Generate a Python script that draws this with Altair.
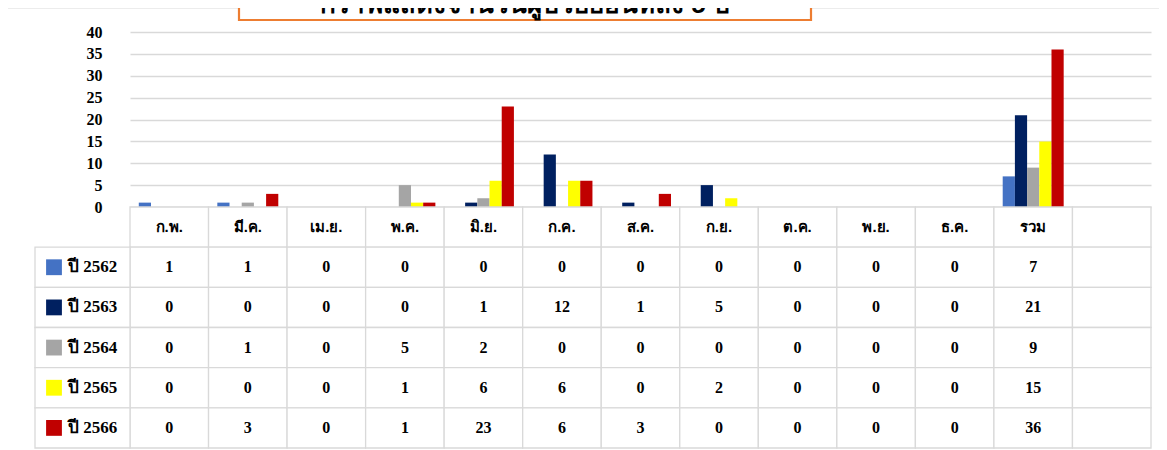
import altair as alt
import pandas as pd

# ---------------- data ----------------
months = ["ก.พ.", "มี.ค.", "เม.ย.", "พ.ค.", "มิ.ย.", "ก.ค.", "ส.ค.", "ก.ย.", "ต.ค.", "พ.ย.", "ธ.ค.", "รวม"]
blank_col = " "
years = ["ปี 2562", "ปี 2563", "ปี 2564", "ปี 2565", "ปี 2566"]
v2562 = [1, 1, 0, 0, 0, 0, 0, 0, 0, 0, 0, 7]
v2563 = [0, 0, 0, 0, 1, 12, 1, 5, 0, 0, 0, 21]
v2564 = [0, 1, 0, 5, 2, 0, 0, 0, 0, 0, 0, 9]
v2565 = [0, 0, 0, 1, 6, 6, 0, 2, 0, 0, 0, 15]
v2566 = [0, 3, 0, 1, 23, 6, 3, 0, 0, 0, 0, 36]
y_ticks = [0, 5, 10, 15, 20, 25, 30, 35, 40]
colors = ["#4472C4", "#002060", "#A5A5A5", "#FFFF00", "#C00000"]
title_text = "กราฟแสดงจำนวนผู้ป่วยย้อนหลัง 5 ปี"

series = dict(zip(years, [v2562, v2563, v2564, v2565, v2566]))
columns = months + [blank_col]
header_row = "header"
rows = [header_row] + years

long = pd.DataFrame(
    [{"month": m, "row": y, "value": series[y][i]} for y in years for i, m in enumerate(months)]
)
cells = pd.DataFrame([{"month": c, "row": r} for c in columns for r in rows])
header_df = pd.DataFrame({"month": months, "row": header_row})
labels_df = pd.DataFrame({"row": years})
one = pd.DataFrame({"k": [0]})

# ---------------- layout ----------------
W, H = 1021, 416
BAR_H = 175
GRID = "#d9d9d9"
SERIF = "Liberation Serif"

xscale = alt.Scale(domain=columns, paddingInner=0, paddingOuter=0)
tab_y = alt.Scale(domain=rows, range=[BAR_H, H], paddingInner=0, paddingOuter=0)
cscale = alt.Scale(domain=years, range=colors)

X = alt.X("month:N", scale=xscale, axis=None, sort=columns)
YT = alt.Y("row:N", scale=tab_y, axis=None, sort=rows)

border = alt.Chart(one).mark_rect(fillOpacity=0, stroke=GRID, strokeWidth=1).encode(
    x=alt.value(-122.5), x2=alt.value(1100), y=alt.value(-24), y2=alt.value(430)
)

bars = alt.Chart(long[long.value > 0]).mark_bar().encode(
    x=X,
    xOffset=alt.XOffset("row:N", scale=alt.Scale(domain=years, paddingOuter=0.72, paddingInner=0)),
    y=alt.Y(
        "value:Q",
        scale=alt.Scale(domain=[0, 40], range=[BAR_H, 0], nice=False, zero=True),
        axis=alt.Axis(
            values=y_ticks, grid=True, gridColor=GRID, gridWidth=1.3, domain=False, ticks=False,
            labelPadding=28, labelFont=SERIF, labelFontWeight="bold", labelFontSize=16,
            labelColor="black", title=None,
        ),
    ),
    color=alt.Color("row:N", scale=cscale, legend=None),
)

cell_rects = alt.Chart(cells).mark_rect(fill="white", stroke=GRID, strokeWidth=1.3).encode(x=X, y=YT)
label_cells = alt.Chart(labels_df).mark_rect(fill="white", stroke=GRID, strokeWidth=1.3).encode(
    x=alt.value(-95), x2=alt.value(0), y=YT
)
squares = alt.Chart(labels_df).mark_square(size=250, opacity=1).encode(
    x=alt.value(-76), y=YT, color=alt.Color("row:N", scale=cscale, legend=None)
)
row_labels = alt.Chart(labels_df).mark_text(
    align="left", font=SERIF, fontWeight="bold", fontSize=17, color="black"
).encode(x=alt.value(-62), y=YT, text="row:N")
header = alt.Chart(header_df).mark_text(fontSize=15, fontWeight="bold", color="black").encode(
    x=X, y=YT, text="month:N"
)
values_text = alt.Chart(long).mark_text(font=SERIF, fontWeight="bold", fontSize=16, color="black").encode(
    x=X, y=YT, text="value:Q"
)
table = alt.layer(cell_rects, label_cells, squares, row_labels, header, values_text)

title_box = alt.Chart(one).mark_rect(fill="white", stroke="#ED7D31", strokeWidth=2.2).encode(
    x=alt.value(109), x2=alt.value(681), y=alt.value(-50), y2=alt.value(-12)
)
title_mark = alt.Chart(one).mark_text(
    fontSize=26, fontWeight="bold", color="black", baseline="alphabetic"
).encode(x=alt.value(395), y=alt.value(-19), text=alt.value(title_text))

chart = (
    alt.layer(border, bars, table, title_box, title_mark)
    .resolve_scale(y="independent")
    .properties(
        width=W, height=H,
        padding={"left": 122, "top": 24, "right": 8, "bottom": 2},
        autosize=alt.AutoSizeParams(type="none"),
        background="white",
    )
    .configure_view(stroke=None)
)

chart.save("out.html", embed_options={"renderer": "svg", "actions": False})
